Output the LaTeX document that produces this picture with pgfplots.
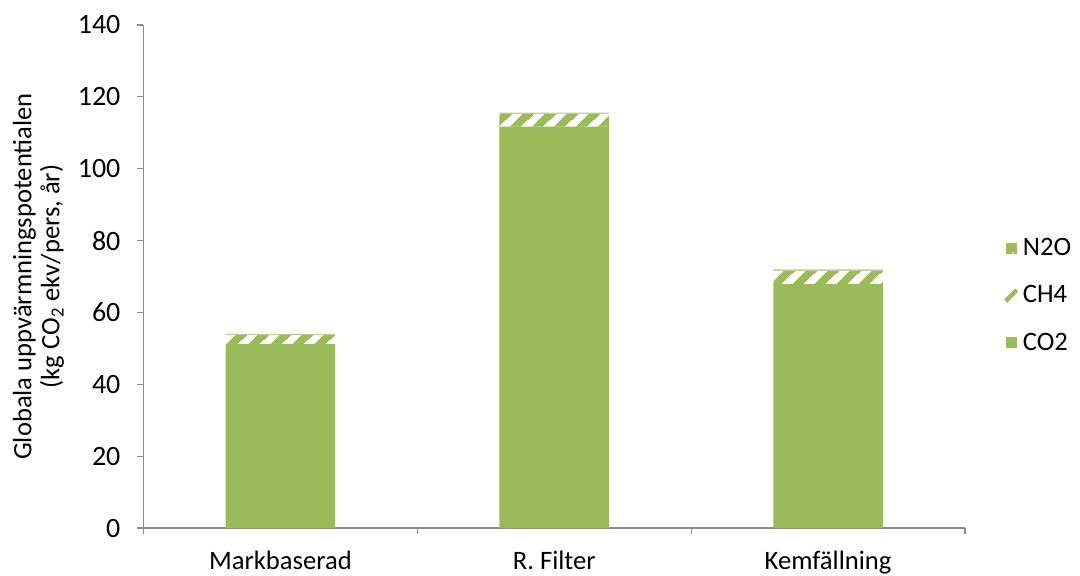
\documentclass[border=0pt]{standalone}
\usepackage{fontspec}
\setmainfont{Carlito}
\usepackage{pgfplots}
\pgfplotsset{compat=1.18}
\usetikzlibrary{patterns.meta}

\definecolor{barg}{HTML}{9BBB59}
\definecolor{barlight}{HTML}{B9D08A}
\definecolor{axgray}{HTML}{8C8C8C}

% wide upward diagonal stripes
\tikzdeclarepattern{
  name=widediag,
  type=uncolored,
  bounding box={(0pt,0pt) and (11pt,11pt)},
  tile size={(11pt,11pt)},
  code={
    \draw[line width=4pt] (-3pt,-3pt) -- (14pt,14pt);
    \draw[line width=4pt] (-14pt,-3pt) -- (3pt,14pt);
    \draw[line width=4pt] (8pt,-3pt) -- (25pt,14pt);
  }
}

\begin{document}
\begin{tikzpicture}
\useasboundingbox (-71.75pt,-23.5pt) rectangle (468.25pt,264pt);
\begin{axis}[
  at={(0pt,0pt)}, anchor=south west,
  scale only axis,
  width=410.75pt, height=251.5pt,
  font=\fontsize{13.3}{15.5}\selectfont,
  /pgf/number format/assume math mode=true,
  ybar stacked,
  bar width=0.4,
  xmin=-0.5, xmax=2.5,
  ymin=0, ymax=140,
  ytick={0,20,...,140},
  xtick={0,1,2},
  xticklabels={Markbaserad, R. Filter, Kemfällning},
  minor xtick={-0.5,0.5,1.5,2.5},
  major x tick style={draw=none},
  minor x tick style={draw=axgray},
  tick align=outside,
  major tick length=3pt,
  minor tick length=3pt,
  tick style={draw=axgray, line width=0.6pt},
  yticklabel style={xshift=-5pt, font=\fontsize{14}{16}\selectfont},
  xticklabel style={yshift=-5pt},
  axis x line*=bottom,
  axis y line*=left,
  axis line style={draw=axgray, line width=0.6pt},
  ylabel={\parbox{8cm}{\centering Globala uppvärmningspotentialen\\[-1.5pt](kg CO\textsubscript{2} ekv/pers, år)}},
  ylabel style={at={(-0.128,0.5)}, anchor=center},
  reverse legend,
  legend style={draw=none, fill=none, at={(1.039,0.462)}, anchor=west,
    row sep=9.5pt, font=\fontsize{13.3}{15.5}\selectfont},
  legend cell align=left,
]
\addplot[fill=barg, draw=none,
  area legend,
  legend image code/.code={\fill[barg] (0pt,-2.75pt) rectangle (5.5pt,2.75pt);}]
  coordinates {(0,51.2) (1,111.7) (2,67.9)};
\addlegendentry{CO2}
\addplot[fill=white, draw=none,
  postaction={pattern=widediag, pattern color=barg},
  legend image code/.code={\draw[barg, line width=2.2pt] (0pt,-2.75pt) -- (5.5pt,2.75pt);}]
  coordinates {(0,2.5) (1,3.6) (2,3.7)};
\addlegendentry{CH4}
\addplot[fill=barlight, draw=none,
  legend image code/.code={\fill[barg] (0pt,-2.75pt) rectangle (5.5pt,2.75pt);
    \fill[white] (3.6pt,-2.2pt) circle (0.5pt);}]
  coordinates {(0,0.3) (1,0.3) (2,0.4)};
\addlegendentry{N2O}
\end{axis}
\end{tikzpicture}
\end{document}
